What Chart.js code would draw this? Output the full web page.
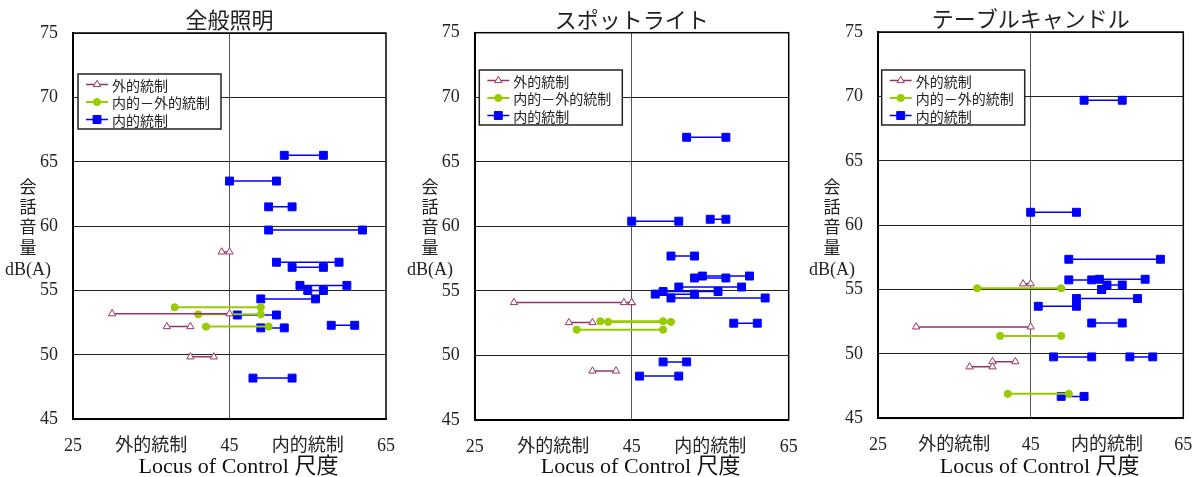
<!DOCTYPE html>
<html>
<head>
<meta charset="utf-8">
<script src="https://cdn.jsdelivr.net/npm/chart.js@4.4.0/dist/chart.umd.min.js"></script>
<style>
  body { margin: 0; background: #fff; }
  canvas { position: absolute; top: 0; }
</style>
</head>
<body>
<canvas id="c1" width="400" height="477" style="left:0px"></canvas>
<canvas id="c2" width="400" height="477" style="left:400px"></canvas>
<canvas id="c3" width="402" height="477" style="left:800px"></canvas>
<script>
// --- data -------------------------------------------------------------
const panelTitles = ['全般照明', 'スポットライト', 'テーブルキャンドル'];
const groupNames = ['外的統制', '内的－外的統制', '内的統制'];
const xTickValues = [25, 35, 45, 55, 65];
const xTickLabels = ['25', '外的統制', '45', '内的統制', '65'];
const yTickValues = [45, 50, 55, 60, 65, 70, 75];
const xAxisTitle = 'Locus of Control 尺度';
const yAxisTitle = ['会', '話', '音', '量', 'dB(A)'];

// each segment: [LOC start, LOC end, dB(A)]
const general_external = [[44, 45, 58.0], [30, 45, 53.2], [37, 40, 52.2], [40, 43, 49.85]];
const general_middle = [[38, 49, 53.7], [41, 49, 53.15], [42, 50, 52.2]];
const general_internal = [
  [52, 57, 65.5], [45, 51, 63.5], [50, 53, 61.5], [50, 62, 59.7], [51, 59, 57.2],
  [53, 57, 56.8], [54, 60, 55.4], [55, 57, 55.0], [49, 56, 54.35], [46, 51, 53.1],
  [49, 52, 52.1], [58, 61, 52.3], [48, 53, 48.2]
];

const spot_external = [[30, 45, 54.1], [44, 45, 54.1], [37, 40, 52.55], [40, 43, 48.8]];
const spot_middle = [[41, 49, 52.65], [42, 50, 52.6], [38, 49, 52.0]];
const spot_internal = [
  [52, 57, 66.9], [45, 51, 60.4], [55, 57, 60.55], [50, 53, 57.7], [53, 57, 56.0],
  [54, 60, 56.15], [51, 59, 55.3], [49, 56, 54.95], [48, 53, 54.75], [50, 62, 54.45],
  [58, 61, 52.5], [49, 52, 49.5], [46, 51, 48.4]
];

const candle_external = [[44, 45, 55.45], [30, 45, 52.1], [40, 43, 49.4], [37, 40, 49.0]];
const candle_middle = [[38, 49, 55.1], [41, 49, 51.4], [42, 50, 46.9]];
const candle_internal = [
  [52, 57, 69.7], [45, 51, 61.0], [50, 62, 57.35], [50, 53, 55.75], [54, 60, 55.8],
  [55, 57, 55.35], [54.3, 54.3, 55.0], [51, 59, 54.3], [46, 51, 53.7], [53, 57, 52.4],
  [48, 53, 49.77], [58, 61, 49.77], [49, 52, 46.7]
];

// --- helpers ----------------------------------------------------------
const serif = "'Liberation Serif', 'Noto Sans CJK JP', serif";
const gothic = "'Noto Sans CJK JP', sans-serif";

// two points per segment, then a gap
function toPoints(segs) {
  const pts = [];
  segs.forEach(s => {
    pts.push({x: s[0], y: s[2]}, {x: s[1], y: s[2]}, {x: null, y: null});
  });
  return pts;
}

function drawMarker(ctx, ds, x, y) {
  const r = ds.pointRadius;
  ctx.fillStyle = ds.pointBackgroundColor;
  ctx.strokeStyle = ds.pointBorderColor;
  ctx.lineWidth = ds.pointBorderWidth;
  ctx.beginPath();
  if (ds.pointStyle === 'triangle') {
    const w = r * Math.sqrt(3);
    ctx.moveTo(x, y - r);
    ctx.lineTo(x + w / 2, y + r / 2);
    ctx.lineTo(x - w / 2, y + r / 2);
    ctx.closePath();
  } else if (ds.pointStyle === 'rect') {
    const s = r * Math.SQRT1_2;
    ctx.rect(x - s, y - s, s * 2, s * 2);
  } else {
    ctx.arc(x, y, r, 0, Math.PI * 2);
  }
  ctx.fill();
  ctx.stroke();
}

const framePlugin = {
  id: 'frame',
  beforeDatasetsDraw(chart) {
    const {ctx, chartArea: a} = chart;
    ctx.save();
    ctx.strokeStyle = '#000';
    ctx.lineWidth = 1.5;
    ctx.strokeRect(a.left, a.top, a.right - a.left, a.bottom - a.top);
    ctx.restore();
  }
};

const boxLegend = {
  id: 'boxLegend',
  afterDraw(chart, args, opts) {
    const {ctx, chartArea: a} = chart;
    const x = a.left + opts.dx, y = a.top + opts.dy;
    ctx.save();
    ctx.fillStyle = '#fff';
    ctx.fillRect(x, y, 143, 55);
    ctx.strokeStyle = '#222';
    ctx.lineWidth = 1.5;
    ctx.strokeRect(x, y, 143, 55);
    chart.data.datasets.forEach((ds, i) => {
      const cy = y + 10.5 + i * 17.5;
      ctx.strokeStyle = ds.borderColor;
      ctx.lineWidth = ds.borderWidth;
      ctx.beginPath();
      ctx.moveTo(x + 8, cy);
      ctx.lineTo(x + 30, cy);
      ctx.stroke();
      drawMarker(ctx, ds, x + 19, cy);
      ctx.fillStyle = '#222';
      ctx.font = '14px ' + gothic;
      ctx.textBaseline = 'middle';
      ctx.textAlign = 'left';
      ctx.fillText(ds.label, x + 34, cy + 1);
    });
    ctx.restore();
  }
};

// upright stacked y title and the x title (sits a little right of centre)
const axisTitles = {
  id: 'axisTitles',
  afterDraw(chart, args, opts) {
    const {ctx, chartArea: a} = chart;
    const ys = [187, 207, 227, 248, 270];
    ctx.save();
    ctx.fillStyle = '#222';
    ctx.textAlign = 'center';
    ctx.textBaseline = 'middle';
    yAxisTitle.forEach((t, i) => {
      ctx.font = i < 4 ? '17px ' + gothic : '18px ' + serif;
      ctx.fillText(t, opts.x, ys[i]);
    });
    ctx.fillStyle = '#111';
    ctx.font = '22px ' + serif;
    ctx.fillText(xAxisTitle, (a.left + a.right) / 2 + 9, 467);
    ctx.restore();
  }
};

function makeChart(id, title, ext, mid, inn, box) {
  return new Chart(document.getElementById(id), {
    type: 'line',
    data: {
      datasets: [
        {
          label: groupNames[0], data: toPoints(ext),
          borderColor: '#993366', borderWidth: 1.5,
          pointStyle: 'triangle', pointRadius: 4.2,
          pointBackgroundColor: '#fff', pointBorderColor: '#993366', pointBorderWidth: 1
        },
        {
          label: groupNames[1], data: toPoints(mid),
          borderColor: '#99CC00', borderWidth: 2,
          pointStyle: 'circle', pointRadius: 3.6,
          pointBackgroundColor: '#99CC00', pointBorderColor: '#99CC00', pointBorderWidth: 1
        },
        {
          label: groupNames[2], data: toPoints(inn),
          borderColor: '#0000FF', borderWidth: 1.5,
          pointStyle: 'rect', pointRadius: 5.6,
          pointBackgroundColor: '#0000FF', pointBorderColor: '#0000FF', pointBorderWidth: 1
        }
      ]
    },
    options: {
      responsive: false,
      animation: false,
      devicePixelRatio: 1,
      spanGaps: false,
      layout: { padding: { left: 0, right: box.padRight, top: 0, bottom: 0 } },
      plugins: {
        legend: { display: false },
        tooltip: { enabled: false },
        title: {
          display: true, text: title, fullSize: false, color: '#222',
          font: { family: gothic, size: 22, weight: 'normal', lineHeight: 1.2 },
          padding: { top: box.titleTop, bottom: 0 }
        },
        boxLegend: { dx: box.legendDx, dy: box.legendDy },
        axisTitles: { x: box.yTitleX }
      },
      scales: {
        x: {
          type: 'linear', min: 25, max: 65,
          afterBuildTicks: s => { s.ticks = xTickValues.map(v => ({ value: v })); },
          afterFit: s => { s.height = box.xHeight; s.paddingLeft = 0; s.paddingRight = 0; },
          ticks: {
            autoSkip: false, maxRotation: 0, padding: 16, color: '#222',
            font: { family: serif, size: 18 },
            callback: v => xTickLabels[xTickValues.indexOf(v)]
          },
          grid: {
            drawTicks: false, lineWidth: 1,
            color: c => (c.tick && c.tick.value === 45) ? '#555' : 'rgba(0,0,0,0)'
          },
          border: { display: true, color: '#000', width: 2 }
        },
        y: {
          min: 45, max: 75,
          afterBuildTicks: s => { s.ticks = yTickValues.map(v => ({ value: v })); },
          afterFit: s => { s.width = box.left; },
          ticks: { padding: 15, color: '#222', font: { family: serif, size: 18 } },
          grid: { drawTicks: false, color: '#222', lineWidth: 1 },
          border: { display: true, color: '#000', width: 2 }
        }
      }
    },
    plugins: [framePlugin, boxLegend, axisTitles]
  });
}

makeChart('c1', panelTitles[0], general_external, general_middle, general_internal,
  { left: 73, padRight: 14, xHeight: 57.7, titleTop: 6.6, legendDx: 5, legendDy: 41, yTitleX: 28 });
makeChart('c2', panelTitles[1], spot_external, spot_middle, spot_internal,
  { left: 74.7, padRight: 11.3, xHeight: 57, titleTop: 6.3, legendDx: 4.6, legendDy: 37.3, yTitleX: 30 });
makeChart('c3', panelTitles[2], candle_external, candle_middle, candle_internal,
  { left: 78, padRight: 18.7, xHeight: 58.7, titleTop: 5.6, legendDx: 3.7, legendDy: 38, yTitleX: 32 });
</script>
</body>
</html>
